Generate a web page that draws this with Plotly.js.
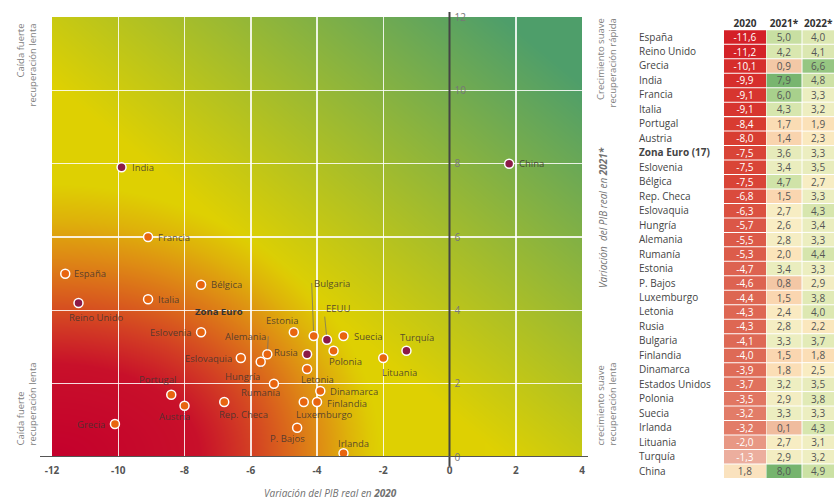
<!DOCTYPE html>
<html><head><meta charset="utf-8">
<script src="https://cdn.plot.ly/plotly-3.0.1.min.js"></script>
<style>html,body{margin:0;padding:0;background:#fff}#chart{width:834px;height:499px}</style>
</head><body><div id="chart"></div>
<script>
// ---------------- DATA ----------------
const countries = ["España","Reino Unido","Grecia","India","Francia","Italia","Portugal","Austria","Zona Euro (17)","Eslovenia","Bélgica","Rep. Checa","Eslovaquia","Hungría","Alemania","Rumanía","Estonia","P. Bajos","Luxemburgo","Letonia","Rusia","Bulgaria","Finlandia","Dinamarca","Estados Unidos","Polonia","Suecia","Irlanda","Lituania","Turquía","China"];
const gdp2020 = [-11.6,-11.2,-10.1,-9.9,-9.1,-9.1,-8.4,-8.0,-7.5,-7.5,-7.5,-6.8,-6.3,-5.7,-5.5,-5.3,-4.7,-4.6,-4.4,-4.3,-4.3,-4.1,-4.0,-3.9,-3.7,-3.5,-3.2,-3.2,-2.0,-1.3,1.8];
const gdp2021 = [5.0,4.2,0.9,7.9,6.0,4.3,1.7,1.4,3.6,3.4,4.7,1.5,2.7,2.6,2.8,2.0,3.4,0.8,1.5,2.4,2.8,3.3,1.5,1.8,3.2,2.9,3.3,0.1,2.7,2.9,8.0];
const gdp2022 = [4.0,4.1,6.6,4.8,3.3,3.2,1.9,2.3,3.3,3.5,2.7,3.3,4.3,3.4,3.3,4.4,3.3,2.9,3.8,4.0,2.2,3.7,1.8,2.5,3.5,3.8,3.3,4.3,3.1,3.2,4.9];
const nonEU = ["Reino Unido","India","Rusia","Estados Unidos","Turquía","China"];
const aggregates = ["Zona Euro (17)"];
const chartNames = {"Estados Unidos":"EEUU","Zona Euro (17)":"Zona Euro"};
const tableHeader = ["2020","2021*","2022*"];
const xTicks = [-12,-10,-8,-6,-4,-2,0,2,4];
const yTicks = [0,2,4,6,8,10,12];
const xTitle = "Variación del PIB real en ";
const xTitleYear = "2020";
const yTitle = "Variación  del PIB real en ";
const yTitleYear = "2021*";
const quadTL = ["Caída fuerte","recuperación lenta"];
const quadBL = ["Caída fuerte","recuperación lenta"];
const quadTR = ["Crecimiento suave","recuperación rápida"];
const quadBR = ["crecimiento suave","recuperación lenta"];

// ---------------- STYLE ----------------
const W = 834, H = 499;
const F = "Open Sans, Arial, sans-serif";
const PL = 52, PR = 582, PT = 17, PB = 457; // plot area px
const px = x => x / W, py = y => 1 - y / H;
const ORANGE = "#e8650f", PURPLE = "#8b1a47";
const LABEL_COL = "rgba(62,52,48,0.85)";

// table geometry (x2 axis units = px from table left edge)
const TBL_L = 629, TBL_R = 834;
const colBase = [95, 137.5, 173.5];
const colWidth = [42, 35, 31.5];
const ROW_TOP = 29.8, ROW_BOTTOM = 478.4, ROW_H = 14.47, PAD_ROWS = 0.6;

// label offsets (px; dx right, dy down) and anchor
const labelPos = {
 "España":[7,0,"left"], "Reino Unido":[18,14,"center"], "Grecia":[-8,0,"right"],
 "India":[8,0,"left"], "Francia":[8,0,"left"], "Italia":[8,0,"left"],
 "Portugal":[-14,-15,"center"], "Austria":[-10,11,"center"], "Zona Euro (17)":[18,-14,"center"],
 "Eslovenia":[-7,0,"right"], "Bélgica":[8,0,"left"], "Rep. Checa":[19,12,"center"],
 "Eslovaquia":[-7,0,"right"], "Rumanía":[-13,9,"center"], "Estonia":[-12,-12,"center"],
 "P. Bajos":[-10,11,"center"], "Luxemburgo":[21,12,"center"], "Letonia":[10,10,"center"],
 "Rusia":[-7,-2,"right"], "Finlandia":[8,1,"left"], "Dinamarca":[8,0,"left"],
 "Polonia":[12,11,"center"], "Suecia":[8,0,"left"], "Irlanda":[10,-10,"center"],
 "Lituania":[16,14,"center"], "Turquía":[11,-13,"center"], "China":[8,0,"left"]
};
const leaderPos = {
 "Hungría":[1,15,"right"], "Alemania":[1,-18,"right"],
 "Bulgaria":[-2,-53,"left"], "Estados Unidos":[-3,-31,"left"]
};

// ---------------- BACKGROUND GRADIENT ----------------
function lerp(a,b,t){return a+(b-a)*t;}
function makeBg(w,h){
  const c = document.createElement('canvas'); c.width=w; c.height=h;
  const ctx = c.getContext('2d'); const img = ctx.createImageData(w,h);
  const stops = [[0,[196,0,44]],[0.21,[200,16,42]],[0.30,[210,60,36]],[0.38,[218,100,28]],[0.46,[222,140,20]],[0.54,[222,178,10]],[0.62,[222,208,2]],[3,[222,214,0]]];
  const green = [78,158,106];
  for(let j=0;j<h;j++){
    for(let i=0;i<w;i++){
      const u=i/(w-1), v=1-j/(h-1);
      const d0=Math.sqrt(u*u+v*v);
      const a=1.6-0.6*Math.min(1,d0/0.6);
      const r=Math.sqrt((u/a)*(u/a)+v*v);
      let col=stops[stops.length-1][1];
      for(let k=0;k<stops.length-1;k++){
        if(r>=stops[k][0] && r<=stops[k+1][0]){
          const t=(r-stops[k][0])/(stops[k+1][0]-stops[k][0]);
          col=[0,1,2].map(q=>lerp(stops[k][1][q],stops[k+1][1][q],t)); break;
        }
      }
      let g=(u+v-0.85)/1.0; g=Math.max(0,Math.min(1,g));
      const o=(j*w+i)*4;
      img.data[o]=lerp(col[0],green[0],g);
      img.data[o+1]=lerp(col[1],green[1],g);
      img.data[o+2]=lerp(col[2],green[2],g);
      img.data[o+3]=255;
    }
  }
  ctx.putImageData(img,0,0);
  return c.toDataURL('image/png');
}

// ---------------- TABLE COLOURS ----------------
function scale(stops,v){
  if(v<=stops[0][0]) return stops[0][1];
  for(let k=0;k<stops.length-1;k++){
    if(v<=stops[k+1][0]){
      const t=(v-stops[k][0])/(stops[k+1][0]-stops[k][0]);
      return [0,1,2].map(q=>Math.round(lerp(stops[k][1][q],stops[k+1][1][q],t)));
    }
  }
  return stops[stops.length-1][1];
}
const s2020=[[-11.6,[212,32,39]],[-8,[216,62,50]],[-4,[222,106,86]],[-2,[232,152,132]],[-1.3,[236,174,158]],[1.8,[250,226,190]]];
const sGrow=[[0.1,[240,188,158]],[0.9,[243,200,166]],[1.5,[250,214,176]],[2.0,[251,228,186]],[2.6,[249,237,196]],[3.3,[236,238,192]],[4.0,[221,232,178]],[4.8,[206,226,166]],[6.0,[168,208,140]],[6.6,[150,198,130]],[8.0,[118,180,110]]];
const rgb=c=>`rgb(${c[0]},${c[1]},${c[2]})`;
const fmt=v=>v.toFixed(1).replace('.',',');

// ---------------- TRACES ----------------
const markerColors = countries.map(c=>aggregates.includes(c)?'rgba(0,0,0,0)':(nonEU.includes(c)?PURPLE:ORANGE));
const markerLines = countries.map(c=>aggregates.includes(c)?0:1.5);

const scatter = {
  type:'scatter', mode:'markers', x:gdp2020, y:gdp2021, xaxis:'x', yaxis:'y',
  marker:{size:9, color:markerColors, line:{color:'white', width:markerLines}},
  hoverinfo:'none', showlegend:false, cliponaxis:false
};

const tableSeries = [gdp2020, gdp2021, gdp2022];
const tableScales = [s2020, sGrow, sGrow];
const tableBars = tableSeries.map((vals,k)=>({
  type:'bar', orientation:'h', xaxis:'x2', yaxis:'y2',
  y:countries, x:vals.map(()=>colWidth[k]), base:vals.map(()=>colBase[k]),
  marker:{color:vals.map(v=>rgb(scale(tableScales[k],v))), line:{width:0}},
  text:vals.map(fmt), textposition:'inside', insidetextanchor:'middle', textangle:0, constraintext:'none',
  textfont:{family:F, size:10, color:vals.map(v=>(k===0 && v<0)?'#ffffff':'#555555')},
  hoverinfo:'none', showlegend:false
}));

// ---------------- ANNOTATIONS ----------------
const ann = [];
countries.forEach((c,i)=>{
  const name = chartNames[c]||c;
  const bold = aggregates.includes(c);
  const txt = bold?'<b>'+name+'</b>':name;
  const font = {family:F,size:9.5,color:bold?'#333':LABEL_COL};
  if(leaderPos[c]){
    const p=leaderPos[c];
    ann.push({x:gdp2020[i],y:gdp2021[i],xref:'x',yref:'y',text:txt,showarrow:true,arrowhead:0,arrowwidth:0.8,arrowcolor:'rgba(110,110,110,0.9)',ax:p[0],ay:p[1],xanchor:p[2],yanchor:'middle',standoff:5,font:font});
  } else if(labelPos[c]){
    const p=labelPos[c];
    ann.push({x:gdp2020[i],y:gdp2021[i],xref:'x',yref:'y',text:txt,showarrow:false,xshift:p[0],yshift:-p[1],xanchor:p[2],yanchor:'middle',font:font});
  }
});
const qFont={family:F,size:9.5,color:'#808080'};
ann.push({xref:'paper',yref:'paper',x:px(26),y:py(22),text:quadTL.join('<br>'),showarrow:false,textangle:-90,xanchor:'center',yanchor:'top',align:'right',font:qFont});
ann.push({xref:'paper',yref:'paper',x:px(26),y:py(448),text:quadBL.join('<br>'),showarrow:false,textangle:-90,xanchor:'center',yanchor:'bottom',align:'left',font:qFont});
ann.push({xref:'paper',yref:'paper',x:px(606),y:py(17),text:quadTR.join('<br>'),showarrow:false,textangle:-90,xanchor:'center',yanchor:'top',align:'right',font:qFont});
ann.push({xref:'paper',yref:'paper',x:px(606),y:py(448),text:quadBR.join('<br>'),showarrow:false,textangle:-90,xanchor:'center',yanchor:'bottom',align:'left',font:qFont});
ann.push({xref:'paper',yref:'paper',x:px(330),y:py(493),text:'<i>'+xTitle+'<b>'+xTitleYear+'</b></i>',showarrow:false,xanchor:'center',yanchor:'middle',font:{family:F,size:10,color:'#707070'}});
ann.push({xref:'paper',yref:'paper',x:px(603),y:py(218),text:'<i>'+yTitle+'<b>'+yTitleYear+'</b></i>',showarrow:false,textangle:-90,xanchor:'center',yanchor:'middle',font:{family:F,size:10,color:'#707070'}});

// ---------------- LAYOUT ----------------
const xDom=[px(PL),px(PR)];
const layout = {
  width:W, height:H, margin:{l:0,r:0,t:0,b:0},
  paper_bgcolor:'white', plot_bgcolor:'rgba(0,0,0,0)',
  font:{family:F},
  showlegend:false, barmode:'overlay', bargap:0.07,
  xaxis:{domain:xDom, range:[-12,4], tickvals:xTicks, ticktext:xTicks.map(String),
    showgrid:true, gridcolor:'rgba(255,255,255,0.85)', gridwidth:1.5, zeroline:false, showline:false, ticks:'',
    tickfont:{family:F,size:10,color:'#555',weight:'bold'}, ticklabelstandoff:6, fixedrange:true},
  yaxis:{domain:[py(PB),py(PT)], range:[0,12], tickvals:yTicks, ticktext:yTicks.map(String),
    anchor:'free', position:xDom[0]+(xDom[1]-xDom[0])*0.75, side:'right',
    showgrid:true, gridcolor:'rgba(255,255,255,0.85)', gridwidth:1.5, zeroline:false, showline:false, ticks:'',
    tickfont:{family:F,size:10,color:'#777'}, ticklabelstandoff:4, fixedrange:true},
  xaxis2:{domain:[px(TBL_L),px(TBL_R)], range:[0,TBL_R-TBL_L], anchor:'free', position:py(ROW_TOP), side:'top',
    tickvals:colBase.map((b,k)=>b+colWidth[k]/2), ticktext:tableHeader.map(h=>'<b>'+h+'</b>'),
    showgrid:false, zeroline:false, showline:false, ticks:'', ticklabelstandoff:1,
    tickfont:{family:F,size:10,color:'#333'}, fixedrange:true},
  yaxis2:{domain:[py(ROW_BOTTOM+PAD_ROWS*ROW_H),py(ROW_TOP-PAD_ROWS*ROW_H)], anchor:'x2', type:'category',
    categoryorder:'array', categoryarray:countries, range:[countries.length-0.5+PAD_ROWS,-0.5-PAD_ROWS],
    tickvals:countries, ticktext:countries.map(c=>aggregates.includes(c)?'<b>'+c+'</b>':c),
    side:'left', ticklabelposition:'inside', ticklabelstandoff:7,
    showgrid:false, zeroline:false, showline:false, ticks:'',
    tickfont:{family:F,size:10,color:'#444'}, fixedrange:true},
  images:[{source:makeBg(PR-PL,PB-PT), xref:'x', yref:'y', x:-12, y:12, sizex:16, sizey:12, sizing:'stretch', layer:'below', xanchor:'left', yanchor:'top'}],
  shapes:[
    {type:'line', xref:'x', yref:'paper', x0:0, x1:0, y0:py(466), y1:py(12), line:{color:'#444',width:2}},
    {type:'line', xref:'paper', yref:'y', x0:px(40), x1:px(588), y0:0, y1:0, line:{color:'#555',width:2}}
  ],
  annotations:ann
};

Plotly.newPlot('chart',[scatter].concat(tableBars),layout,{displayModeBar:false,staticPlot:true});
</script>
</body></html>
